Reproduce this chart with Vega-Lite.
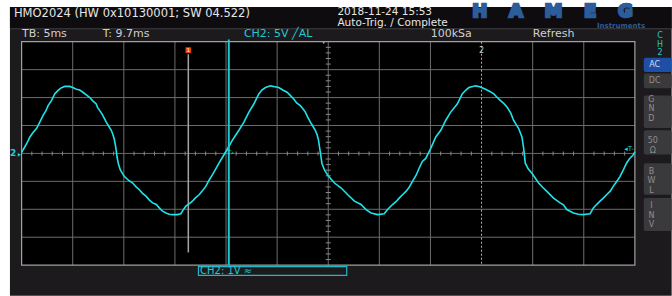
{
"$schema": "https://vega.github.io/schema/vega-lite/v6.json",
"width": 672, "height": 296,
"autosize": {"type": "fit", "contains": "padding"},
"padding": 0,
"background": "#ffffff",
"config": {"view": {"stroke": null}, "text": {"font": "DejaVu Sans"}, "axis": {"disable": true}},
"resolve": {"scale": {"color": "independent"}},
"datasets": {
 "bg": [
  {"part": "screen", "t": -1.14, "t2": 63.6, "v": 5.246, "v2": -5.1},
  {"part": "header", "t": -1.14, "t2": 63.6, "v": 5.246, "v2": 4.484},
  {"part": "separator", "t": -1.14, "t2": 63.6, "v": 4.484, "v2": 4.449},
  {"part": "plot", "t": 0, "t2": 60, "v": 4, "v2": -4}
 ],
 "buttons": [
  {"btn": "AC", "t": 60.87, "t2": 63.6, "v": 3.43, "v2": 2.92},
  {"btn": "DC", "t": 60.87, "t2": 63.6, "v": 2.86, "v2": 2.33},
  {"btn": "GND", "t": 60.87, "t2": 63.6, "v": 2.07, "v2": 0.91},
  {"btn": "50", "t": 60.87, "t2": 63.6, "v": 0.83, "v2": -0.04},
  {"btn": "BWL", "t": 60.87, "t2": 63.6, "v": -0.35, "v2": -1.48},
  {"btn": "INV", "t": 60.87, "t2": 63.6, "v": -1.6, "v2": -2.78}
 ],
 "buttonLabels": [
  {"label": "AC", "t": 61.93, "v": 3.17},
  {"label": "DC", "t": 61.93, "v": 2.59},
  {"label": "G\nN\nD", "t": 61.62, "v": 1.914},
  {"label": "50\nΩ", "t": 61.75, "v": 0.436},
  {"label": "B\nW\nL", "t": 61.62, "v": -0.649},
  {"label": "I\nN\nV", "t": 61.62, "v": -1.89}
 ],
 "gridT": [{"t": 5}, {"t": 10}, {"t": 15}, {"t": 20}, {"t": 25}, {"t": 30}, {"t": 35}, {"t": 40}, {"t": 50}, {"t": 55}],
 "gridV": [{"v": -3}, {"v": -2}, {"v": -1}, {"v": 0}, {"v": 1}, {"v": 2}, {"v": 3}],
 "tickT": [{"t": 1}, {"t": 2}, {"t": 3}, {"t": 4}, {"t": 6}, {"t": 7}, {"t": 8}, {"t": 9}, {"t": 11}, {"t": 12}, {"t": 13}, {"t": 14}, {"t": 16}, {"t": 17}, {"t": 18}, {"t": 19}, {"t": 21}, {"t": 22}, {"t": 23}, {"t": 24}, {"t": 26}, {"t": 27}, {"t": 28}, {"t": 29}, {"t": 31}, {"t": 32}, {"t": 33}, {"t": 34}, {"t": 36}, {"t": 37}, {"t": 38}, {"t": 39}, {"t": 41}, {"t": 42}, {"t": 43}, {"t": 44}, {"t": 46}, {"t": 47}, {"t": 48}, {"t": 49}, {"t": 51}, {"t": 52}, {"t": 53}, {"t": 54}, {"t": 56}, {"t": 57}, {"t": 58}, {"t": 59}],
 "tickV": [{"v": -3.8}, {"v": -3.6}, {"v": -3.4}, {"v": -3.2}, {"v": -2.8}, {"v": -2.6}, {"v": -2.4}, {"v": -2.2}, {"v": -1.8}, {"v": -1.6}, {"v": -1.4}, {"v": -1.2}, {"v": -0.8}, {"v": -0.6}, {"v": -0.4}, {"v": -0.2}, {"v": 0.2}, {"v": 0.4}, {"v": 0.6}, {"v": 0.8}, {"v": 1.2}, {"v": 1.4}, {"v": 1.6}, {"v": 1.8}, {"v": 2.2}, {"v": 2.4}, {"v": 2.6}, {"v": 2.8}, {"v": 3.2}, {"v": 3.4}, {"v": 3.6}, {"v": 3.8}],
 "wave": [
  {"t": 0, "v": 0.04}, {"t": 0.32, "v": 0.24}, {"t": 0.61, "v": 0.43}, {"t": 0.81, "v": 0.59}, {"t": 1.1, "v": 0.74}, {"t": 1.46, "v": 0.89}, {"t": 1.78, "v": 1.12}, {"t": 2.1, "v": 1.36}, {"t": 2.37, "v": 1.52}, {"t": 2.59, "v": 1.71}, {"t": 2.92, "v": 1.89}, {"t": 3.24, "v": 2.13}, {"t": 3.54, "v": 2.25}, {"t": 3.83, "v": 2.34}, {"t": 4.22, "v": 2.4}, {"t": 4.7, "v": 2.4}, {"t": 5.0, "v": 2.36}, {"t": 5.36, "v": 2.3}, {"t": 5.68, "v": 2.27}, {"t": 6.0, "v": 2.19}, {"t": 6.36, "v": 2.09}, {"t": 6.65, "v": 2.01}, {"t": 6.94, "v": 1.89}, {"t": 7.3, "v": 1.77}, {"t": 7.43, "v": 1.65}, {"t": 7.63, "v": 1.54}, {"t": 7.92, "v": 1.38}, {"t": 8.28, "v": 1.12}, {"t": 8.5, "v": 0.99}, {"t": 8.77, "v": 0.83}, {"t": 8.94, "v": 0.67}, {"t": 9.09, "v": 0.47}, {"t": 9.23, "v": 0.18}, {"t": 9.33, "v": -0.11}, {"t": 9.48, "v": -0.39}, {"t": 9.67, "v": -0.6}, {"t": 10.06, "v": -0.83}, {"t": 10.45, "v": -0.96}, {"t": 10.87, "v": -1.06}, {"t": 11.23, "v": -1.21}, {"t": 11.52, "v": -1.3}, {"t": 11.81, "v": -1.42}, {"t": 12.17, "v": -1.53}, {"t": 12.5, "v": -1.67}, {"t": 12.82, "v": -1.77}, {"t": 13.18, "v": -1.83}, {"t": 13.47, "v": -1.95}, {"t": 13.76, "v": -2.06}, {"t": 14.12, "v": -2.13}, {"t": 14.44, "v": -2.18}, {"t": 14.77, "v": -2.19}, {"t": 15.22, "v": -2.19}, {"t": 15.58, "v": -2.16}, {"t": 15.81, "v": -2.02}, {"t": 16.07, "v": -1.89}, {"t": 16.39, "v": -1.81}, {"t": 16.71, "v": -1.71}, {"t": 16.98, "v": -1.6}, {"t": 17.37, "v": -1.48}, {"t": 17.66, "v": -1.35}, {"t": 18.02, "v": -1.18}, {"t": 18.34, "v": -0.96}, {"t": 18.66, "v": -0.77}, {"t": 18.97, "v": -0.57}, {"t": 19.31, "v": -0.35}, {"t": 19.7, "v": -0.11}, {"t": 20.12, "v": 0.15},
  {"t": 20.61, "v": 0.47}, {"t": 20.92, "v": 0.64}, {"t": 21.26, "v": 0.83}, {"t": 21.75, "v": 1.12}, {"t": 22.24, "v": 1.48}, {"t": 22.72, "v": 1.77}, {"t": 23.21, "v": 2.13}, {"t": 23.5, "v": 2.27}, {"t": 23.86, "v": 2.36}, {"t": 24.35, "v": 2.42}, {"t": 24.77, "v": 2.39}, {"t": 25.16, "v": 2.36}, {"t": 25.55, "v": 2.27}, {"t": 25.97, "v": 2.19}, {"t": 26.33, "v": 2.06}, {"t": 26.62, "v": 1.95}, {"t": 26.91, "v": 1.81}, {"t": 27.27, "v": 1.71}, {"t": 27.5, "v": 1.61}, {"t": 27.76, "v": 1.48}, {"t": 27.98, "v": 1.31}, {"t": 28.25, "v": 1.12}, {"t": 28.47, "v": 0.99}, {"t": 28.73, "v": 0.83}, {"t": 28.91, "v": 0.67}, {"t": 29.05, "v": 0.47}, {"t": 29.22, "v": 0.06}, {"t": 29.38, "v": -0.35}, {"t": 29.64, "v": -0.6}, {"t": 30.03, "v": -0.82}, {"t": 30.61, "v": -1.06}, {"t": 31.27, "v": -1.24}, {"t": 31.91, "v": -1.48}, {"t": 32.56, "v": -1.71}, {"t": 33.21, "v": -1.83}, {"t": 33.7, "v": -2.01}, {"t": 34.19, "v": -2.13}, {"t": 34.83, "v": -2.19}, {"t": 35.48, "v": -2.16}, {"t": 35.8, "v": -2.01}, {"t": 36.29, "v": -1.83}, {"t": 36.65, "v": -1.72}, {"t": 36.94, "v": -1.6}, {"t": 37.24, "v": -1.49}, {"t": 37.6, "v": -1.36}, {"t": 37.92, "v": -1.21}, {"t": 38.24, "v": -1.0}, {"t": 38.6, "v": -0.78}, {"t": 38.89, "v": -0.53}, {"t": 39.21, "v": -0.29}, {"t": 39.54, "v": -0.18}, {"t": 40.03, "v": 0.18},
  {"t": 40.52, "v": 0.59}, {"t": 41.01, "v": 0.83}, {"t": 41.49, "v": 1.18}, {"t": 41.98, "v": 1.48}, {"t": 42.62, "v": 1.77}, {"t": 43.11, "v": 2.13}, {"t": 43.47, "v": 2.27}, {"t": 43.76, "v": 2.36}, {"t": 44.41, "v": 2.42}, {"t": 44.83, "v": 2.39}, {"t": 45.39, "v": 2.3}, {"t": 45.81, "v": 2.22}, {"t": 46.2, "v": 2.13}, {"t": 46.49, "v": 2.02}, {"t": 46.85, "v": 1.89}, {"t": 47.17, "v": 1.79}, {"t": 47.49, "v": 1.66}, {"t": 47.85, "v": 1.45}, {"t": 48.14, "v": 1.18}, {"t": 48.39, "v": 1.03}, {"t": 48.63, "v": 0.89}, {"t": 48.95, "v": 0.59}, {"t": 49.12, "v": 0.18}, {"t": 49.28, "v": -0.35}, {"t": 49.56, "v": -0.55}, {"t": 49.93, "v": -0.71}, {"t": 50.58, "v": -1.06}, {"t": 50.97, "v": -1.21}, {"t": 51.39, "v": -1.36}, {"t": 52.04, "v": -1.6}, {"t": 52.69, "v": -1.77}, {"t": 53.01, "v": -1.84}, {"t": 53.34, "v": -2.01}, {"t": 53.99, "v": -2.13}, {"t": 54.48, "v": -2.18}, {"t": 54.96, "v": -2.19}, {"t": 55.62, "v": -2.16}, {"t": 55.94, "v": -1.95}, {"t": 56.23, "v": -1.84}, {"t": 56.59, "v": -1.71}, {"t": 56.91, "v": -1.6}, {"t": 57.23, "v": -1.48}, {"t": 57.59, "v": -1.35}, {"t": 57.88, "v": -1.18}, {"t": 58.17, "v": -1.03}, {"t": 58.54, "v": -0.83}, {"t": 58.86, "v": -0.6}, {"t": 59.18, "v": -0.35}, {"t": 59.49, "v": -0.18}, {"t": 59.83, "v": -0.06}, {"t": 60.0, "v": 0.06}
 ],
 "headerText": [
  {"label": "HMO2024 (HW 0x10130001; SW 04.522)", "t": -0.75, "v": 4.998}
 ],
 "dateText": [
  {"label": "2018-11-24 15:53", "t": 30.9, "v": 5.07},
  {"label": "Auto-Trig. / Complete", "t": 30.9, "v": 4.66}
 ],
 "statusText": [
  {"label": "TB: 5ms", "t": 0.03, "v": 4.272},
  {"label": "T: 9.7ms", "t": 7.95, "v": 4.272},
  {"label": "100kSa", "t": 40.03, "v": 4.272},
  {"label": "Refresh", "t": 50.02, "v": 4.272}
 ],
 "cyanText": [
  {"label": "CH2: 5V ╱AL", "t": 21.75, "v": 4.272}
 ]
},
"layer": [
 {"data": {"name": "bg"}, "mark": {"type": "rect"},
  "encoding": {
   "x": {"field": "t", "type": "quantitative", "scale": {"domain": [-2.1136, 63.339], "nice": false, "zero": false}},
   "y": {"field": "v", "type": "quantitative", "scale": {"domain": [-4.998, 5.494], "nice": false, "zero": false}},
   "x2": {"field": "t2"}, "y2": {"field": "v2"},
   "color": {"field": "part", "type": "nominal", "scale": {"domain": ["screen", "header", "separator", "plot"], "range": ["#1c1a1d", "#0e0c0f", "#3c3c3e", "#000000"]}, "legend": null}}},
 {"data": {"name": "buttons"}, "mark": {"type": "rect", "cornerRadius": 2},
  "encoding": {
   "x": {"field": "t", "type": "quantitative"}, "y": {"field": "v", "type": "quantitative"},
   "x2": {"field": "t2"}, "y2": {"field": "v2"},
   "color": {"field": "btn", "type": "nominal", "scale": {"domain": ["AC", "DC", "GND", "50", "BWL", "INV"], "range": ["#1d4fa6", "#3a393c", "#3a393c", "#3a393c", "#3a393c", "#3a393c"]}, "legend": null}}},
 {"data": {"name": "buttonLabels"}, "mark": {"type": "text", "fontSize": 8, "lineBreak": "\n", "lineHeight": 9.5, "align": "center", "baseline": "middle"},
  "encoding": {
   "x": {"field": "t", "type": "quantitative"}, "y": {"field": "v", "type": "quantitative"},
   "text": {"field": "label"},
   "color": {"field": "label", "type": "nominal", "scale": {"domain": ["AC", "DC", "G\nN\nD", "50\nΩ", "B\nW\nL", "I\nN\nV"], "range": ["#d8dcf0", "#8f8f8f", "#8f8f8f", "#8f8f8f", "#8f8f8f", "#8f8f8f"]}, "legend": null}}},
 {"data": {"values": [{"label": "C\nH\n2"}]}, "mark": {"type": "text", "fontSize": 8, "lineBreak": "\n", "lineHeight": 8.3, "align": "center", "baseline": "middle", "color": "#22c8d0"},
  "encoding": {"x": {"datum": 62.46, "type": "quantitative"}, "y": {"datum": 4.19, "type": "quantitative"}, "text": {"field": "label"}}},
 {"data": {"name": "gridT"}, "mark": {"type": "rule", "color": "#6c6c6c", "strokeWidth": 1},
  "encoding": {"x": {"field": "t", "type": "quantitative"}, "y": {"datum": -4, "type": "quantitative"}, "y2": {"datum": 4}}},
 {"data": {"name": "gridV"}, "mark": {"type": "rule", "color": "#6c6c6c", "strokeWidth": 1},
  "encoding": {"y": {"field": "v", "type": "quantitative"}, "x": {"datum": 0, "type": "quantitative"}, "x2": {"datum": 60}}},
 {"data": {"values": [{}]}, "mark": {"type": "rect", "filled": false, "stroke": "#a0a0a0", "strokeWidth": 1.2},
  "encoding": {"x": {"datum": 0, "type": "quantitative"}, "x2": {"datum": 60}, "y": {"datum": -4, "type": "quantitative"}, "y2": {"datum": 4}}},
 {"data": {"name": "tickT"}, "mark": {"type": "tick", "orient": "vertical", "size": 4, "thickness": 1, "color": "#8a8a8a", "opacity": 1},
  "encoding": {"x": {"field": "t", "type": "quantitative"}, "y": {"datum": 0, "type": "quantitative"}}},
 {"data": {"name": "tickV"}, "mark": {"type": "tick", "orient": "horizontal", "size": 5, "thickness": 1, "color": "#8a8a8a", "opacity": 1},
  "encoding": {"y": {"field": "v", "type": "quantitative"}, "x": {"datum": 30, "type": "quantitative"}}},
 {"data": {"values": [{}]}, "mark": {"type": "rule", "color": "#b4b4b4", "strokeWidth": 1, "strokeDash": [2, 2]},
  "encoding": {"x": {"datum": 45, "type": "quantitative"}, "y": {"datum": 4, "type": "quantitative"}, "y2": {"datum": -4}}},
 {"data": {"values": [{"label": "2"}]}, "mark": {"type": "text", "fontSize": 8, "align": "center", "baseline": "middle", "color": "#c8c8c8"},
  "encoding": {"x": {"datum": 45, "type": "quantitative"}, "y": {"datum": 3.68, "type": "quantitative"}, "text": {"field": "label"}}},
 {"data": {"values": [{}]}, "mark": {"type": "rule", "color": "#a4a4a4", "strokeWidth": 1.5},
  "encoding": {"x": {"datum": 16.31, "type": "quantitative"}, "y": {"datum": 3.55, "type": "quantitative"}, "y2": {"datum": -3.545}}},
 {"data": {"values": [{}]}, "mark": {"type": "point", "shape": "square", "filled": true, "size": 32, "color": "#e8440f", "opacity": 1},
  "encoding": {"x": {"datum": 16.31, "type": "quantitative"}, "y": {"datum": 3.7, "type": "quantitative"}}},
 {"data": {"values": [{"label": "1"}]}, "mark": {"type": "text", "fontSize": 5, "align": "center", "baseline": "middle", "color": "#ffffff"},
  "encoding": {"x": {"datum": 16.31, "type": "quantitative"}, "y": {"datum": 3.7, "type": "quantitative"}, "text": {"field": "label"}}},
 {"data": {"values": [{}]}, "mark": {"type": "point", "shape": "triangle-down", "filled": true, "size": 10, "color": "#9a9a9a", "opacity": 1},
  "encoding": {"x": {"datum": 29.55, "type": "quantitative"}, "y": {"datum": 3.96, "type": "quantitative"}}},
 {"data": {"name": "wave"}, "mark": {"type": "line", "color": "#1fe3ea", "strokeWidth": 1.6, "interpolate": "linear"},
  "encoding": {
   "x": {"field": "t", "type": "quantitative", "scale": {"domain": [-2.1136, 63.339], "nice": false, "zero": false}},
   "y": {"field": "v", "type": "quantitative", "scale": {"domain": [-4.998, 5.494], "nice": false, "zero": false}}}},
 {"data": {"values": [{}]}, "mark": {"type": "rule", "color": "#1cc8d2", "strokeWidth": 2},
  "encoding": {"x": {"datum": 20.27, "type": "quantitative"}, "y": {"datum": 4.08, "type": "quantitative"}, "y2": {"datum": -4}}},
 {"data": {"values": [{"label": "‹T›"}]}, "mark": {"type": "text", "fontSize": 7, "align": "center", "baseline": "middle", "color": "#22d0da"},
  "encoding": {"x": {"datum": 20.27, "type": "quantitative"}, "y": {"datum": 0.02, "type": "quantitative"}, "text": {"field": "label"}}},
 {"data": {"values": [{"label": "2"}]}, "mark": {"type": "text", "fontSize": 9, "fontWeight": "bold", "align": "center", "baseline": "middle", "color": "#22d0da"},
  "encoding": {"x": {"datum": -0.82, "type": "quantitative"}, "y": {"datum": 0.0, "type": "quantitative"}, "text": {"field": "label"}}},
 {"data": {"values": [{}]}, "mark": {"type": "point", "shape": "triangle-right", "filled": true, "size": 14, "color": "#22d0da", "opacity": 1},
  "encoding": {"x": {"datum": -0.22, "type": "quantitative"}, "y": {"datum": -0.05, "type": "quantitative"}}},
 {"data": {"values": [{"label": "◂T-"}]}, "mark": {"type": "text", "fontSize": 7, "align": "right", "baseline": "middle", "color": "#22d0da"},
  "encoding": {"x": {"datum": 59.9, "type": "quantitative"}, "y": {"datum": 0.16, "type": "quantitative"}, "text": {"field": "label"}}},
 {"data": {"values": [{}]}, "mark": {"type": "rect", "filled": false, "stroke": "#1cb8c4", "strokeWidth": 1.2},
  "encoding": {"x": {"datum": 17.3, "type": "quantitative"}, "x2": {"datum": 31.81}, "y": {"datum": -4.05, "type": "quantitative"}, "y2": {"datum": -4.37}}},
 {"data": {"values": [{"label": "CH2: 1V ≈"}]}, "mark": {"type": "text", "fontSize": 10, "align": "left", "baseline": "middle", "color": "#22c8d2"},
  "encoding": {"x": {"datum": 17.46, "type": "quantitative"}, "y": {"datum": -4.218, "type": "quantitative"}, "text": {"field": "label"}}},
 {"data": {"name": "headerText"}, "mark": {"type": "text", "fontSize": 11.5, "align": "left", "baseline": "middle", "color": "#e6e6e6"},
  "encoding": {"x": {"field": "t", "type": "quantitative"}, "y": {"field": "v", "type": "quantitative"}, "text": {"field": "label"}}},
 {"data": {"name": "dateText"}, "mark": {"type": "text", "fontSize": 10.5, "align": "left", "baseline": "middle", "color": "#e6e6e6"},
  "encoding": {"x": {"field": "t", "type": "quantitative"}, "y": {"field": "v", "type": "quantitative"}, "text": {"field": "label"}}},
 {"data": {"name": "statusText"}, "mark": {"type": "text", "fontSize": 11, "align": "left", "baseline": "middle", "color": "#d0d0d0"},
  "encoding": {"x": {"field": "t", "type": "quantitative"}, "y": {"field": "v", "type": "quantitative"}, "text": {"field": "label"}}},
 {"data": {"name": "cyanText"}, "mark": {"type": "text", "fontSize": 11, "align": "left", "baseline": "middle", "color": "#22c8d2"},
  "encoding": {"x": {"field": "t", "type": "quantitative"}, "y": {"field": "v", "type": "quantitative"}, "text": {"field": "label"}}},
 {"data": {"values": [{"label": "H\u2003\u2009A\u2003\u2009M\u2003\u2009E\u2003\u2009G"}]}, "mark": {"type": "text", "fontSize": 18, "fontWeight": "bold", "align": "left", "baseline": "alphabetic", "color": "#2d5c9b", "stroke": "#2d5c9b", "strokeWidth": 2.4},
  "encoding": {"x": {"datum": 44.1, "type": "quantitative"}, "y": {"datum": 4.874, "type": "quantitative"}, "text": {"field": "label"}}},
 {"data": {"values": [{"label": "Instruments"}]}, "mark": {"type": "text", "fontSize": 7, "fontWeight": "bold", "align": "right", "baseline": "middle", "color": "#2d5c9b"},
  "encoding": {"x": {"datum": 61.0, "type": "quantitative"}, "y": {"datum": 4.56, "type": "quantitative"}, "text": {"field": "label"}}}
]
}
